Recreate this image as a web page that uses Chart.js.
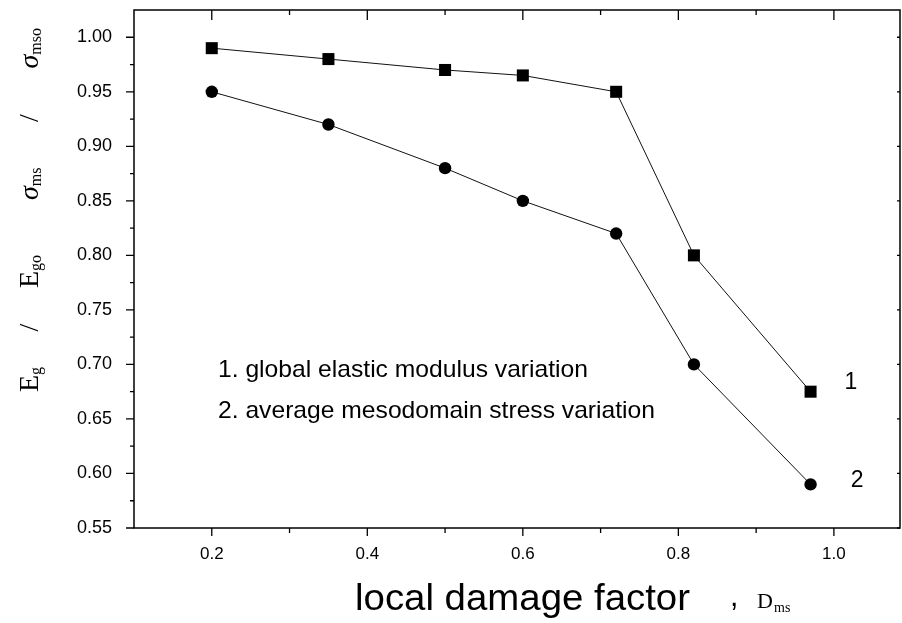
<!DOCTYPE html>
<html>
<head>
<meta charset="utf-8">
<script src="https://cdn.jsdelivr.net/npm/chart.js@4"></script>
<style>
  html, body { margin: 0; padding: 0; background: #fff; }
  #wrap { width: 902px; height: 623px; position: relative; }
  canvas { display: block; }
</style>
</head>
<body>
<div id="wrap"><canvas id="c" width="902" height="623"></canvas></div>
<script>
// ---- data ----
const damageFactor   = [0.2, 0.35, 0.5, 0.6, 0.72, 0.82, 0.97];
const modulusRatio   = [0.99, 0.98, 0.97, 0.965, 0.95, 0.80, 0.675];   // series 1 (squares)
const stressRatio    = [0.95, 0.92, 0.88, 0.85, 0.82, 0.70, 0.59];     // series 2 (circles)
const xTickValues    = [0.2, 0.4, 0.6, 0.8, 1.0];
const xMinorValues   = [0.3, 0.5, 0.7, 0.9];
const yTickValues    = [0.55, 0.60, 0.65, 0.70, 0.75, 0.80, 0.85, 0.90, 0.95, 1.00];
const yMinorValues   = [0.575, 0.625, 0.675, 0.725, 0.775, 0.825, 0.875, 0.925, 0.975];
const legendLines    = ['1. global elastic modulus variation', '2. average mesodomain stress variation'];
const seriesLabels   = ['1', '2'];

const SANS = "'Liberation Sans', Arial, sans-serif";
const SERIF = "'Liberation Serif', 'Times New Roman', serif";

function fitText(ctx, text, x, y, targetW) {
  const w = ctx.measureText(text).width;
  ctx.save();
  ctx.translate(x, y);
  ctx.scale(targetW / w, 1);
  ctx.fillText(text, 0, 0);
  ctx.restore();
}

// lay out pieces along a rotated baseline, distributing extra room into given gaps
function drawRotatedGroup(ctx, pieces, u0, u1) {
  let natural = 0;
  pieces.forEach(p => { ctx.font = p.font; p.w = ctx.measureText(p.t).width; natural += p.w; });
  const stretchGaps = pieces.filter(p => p.gapAfter).length;
  const extra = Math.max(0, (u1 - u0) - natural);
  let u = u0;
  pieces.forEach(p => {
    ctx.font = p.font;
    ctx.fillText(p.t, u, p.v || 0);
    u += p.w;
    if (p.gapAfter) u += extra / stretchGaps;
  });
}

const zeroPad = s => { s.paddingTop = 0; s.paddingBottom = 0; s.paddingLeft = 0; s.paddingRight = 0; };

const framePlugin = {
  id: 'frameAndText',
  afterDraw(chart) {
    const ctx = chart.ctx;
    const a = chart.chartArea;
    const xs = chart.scales.x, ys = chart.scales.y;
    ctx.save();
    ctx.strokeStyle = '#000';
    ctx.fillStyle = '#000';
    // frame
    ctx.lineWidth = 1.5;
    ctx.strokeRect(a.left, a.top, a.right - a.left, a.bottom - a.top);
    ctx.lineWidth = 1.3;
    ctx.beginPath();
    // left ticks (outward)
    yTickValues.forEach(v => { const y = ys.getPixelForValue(v); ctx.moveTo(a.left - 8, y); ctx.lineTo(a.left, y); });
    yMinorValues.forEach(v => { const y = ys.getPixelForValue(v); ctx.moveTo(a.left - 4, y); ctx.lineTo(a.left, y); });
    // right ticks (inward, short)
    yTickValues.forEach(v => { const y = ys.getPixelForValue(v); ctx.moveTo(a.right - 3, y); ctx.lineTo(a.right, y); });
    // bottom ticks (outward)
    xTickValues.forEach(v => { const x = xs.getPixelForValue(v); ctx.moveTo(x, a.bottom); ctx.lineTo(x, a.bottom + 8); });
    xMinorValues.forEach(v => { const x = xs.getPixelForValue(v); ctx.moveTo(x, a.bottom); ctx.lineTo(x, a.bottom + 5); });
    // top ticks (inward)
    xTickValues.forEach(v => { const x = xs.getPixelForValue(v); ctx.moveTo(x, a.top); ctx.lineTo(x, a.top + 10); });
    xMinorValues.forEach(v => { const x = xs.getPixelForValue(v); ctx.moveTo(x, a.top); ctx.lineTo(x, a.top + 5); });
    ctx.stroke();

    // legend text
    ctx.textAlign = 'left';
    ctx.textBaseline = 'alphabetic';
    ctx.font = '24px ' + SANS;
    fitText(ctx, legendLines[0], 218, 377, 370);
    fitText(ctx, legendLines[1], 218, 418, 437);

    // series labels near line ends
    ctx.font = '23px ' + SANS;
    ctx.textAlign = 'center';
    ctx.textBaseline = 'middle';
    ctx.fillText(seriesLabels[0], xs.getPixelForValue(1.022), ys.getPixelForValue(0.683));
    ctx.fillText(seriesLabels[1], xs.getPixelForValue(1.03), ys.getPixelForValue(0.593));

    // x axis title
    ctx.textAlign = 'left';
    ctx.textBaseline = 'alphabetic';
    ctx.font = '36px ' + SANS;
    fitText(ctx, 'local damage factor', 355, 610, 335);
    ctx.font = '30px ' + SANS;
    ctx.fillText(',', 730, 606);
    ctx.font = '22px ' + SERIF;
    ctx.fillText('D', 757, 608);
    ctx.font = '14px ' + SERIF;
    ctx.fillText('ms', 774, 612);

    // y axis title (rotated)
    ctx.save();
    ctx.translate(38, 392);
    ctx.rotate(-Math.PI / 2);
    ctx.textAlign = 'left';
    ctx.textBaseline = 'alphabetic';
    const main = '28px ' + SERIF, sub = '16px ' + SERIF, ital = 'italic 28px ' + SERIF;
    drawRotatedGroup(ctx, [
      { t: 'E', font: main },
      { t: 'g', font: sub, v: 3, gapAfter: true },
      { t: '/', font: main, gapAfter: true },
      { t: 'E', font: main },
      { t: 'go', font: sub, v: 3 }
    ], 0, 137);
    drawRotatedGroup(ctx, [
      { t: 'σ', font: ital },
      { t: 'ms', font: sub, v: 3, gapAfter: true },
      { t: '/', font: main, gapAfter: true },
      { t: 'σ', font: ital },
      { t: 'mso', font: sub, v: 3 }
    ], 192, 364);
    ctx.restore();
    ctx.restore();
  }
};

const ds = (vals, style, radius) => ({
  data: damageFactor.map((x, i) => ({ x, y: vals[i] })),
  borderColor: '#111',
  borderWidth: 1,
  backgroundColor: '#000',
  pointBackgroundColor: '#000',
  pointBorderColor: '#000',
  pointBorderWidth: 0,
  pointStyle: style,
  pointRadius: radius,
  pointHoverRadius: radius,
  tension: 0,
  fill: false
});

new Chart(document.getElementById('c'), {
  type: 'line',
  data: {
    datasets: [ds(modulusRatio, 'rect', 8.5), ds(stressRatio, 'circle', 6.2)]
  },
  plugins: [framePlugin],
  options: {
    responsive: false,
    devicePixelRatio: 1,
    animation: false,
    events: [],
    layout: { autoPadding: false, padding: { top: 10, right: 2, left: 0, bottom: 0 } },
    plugins: { legend: { display: false }, tooltip: { enabled: false }, title: { display: false } },
    scales: {
      x: {
        type: 'linear',
        min: 0.1,
        max: 1.085,
        border: { display: false },
        grid: { display: false, drawTicks: false },
        afterBuildTicks: s => { s.ticks = xTickValues.map(v => ({ value: v })); },
        afterFit: s => { s.height = 95; zeroPad(s); },
        ticks: {
          padding: 16,
          color: '#000',
          maxRotation: 0,
          font: { family: SANS, size: 17 },
          callback: v => Number(v).toFixed(1)
        }
      },
      y: {
        type: 'linear',
        min: 0.55,
        max: 1.025,
        border: { display: false },
        grid: { display: false, drawTicks: false },
        afterBuildTicks: s => { s.ticks = yTickValues.map(v => ({ value: v })); },
        afterFit: s => { s.width = 134; zeroPad(s); },
        ticks: {
          padding: 22,
          color: '#000',
          font: { family: SANS, size: 18 },
          callback: v => Number(v).toFixed(2)
        }
      }
    }
  }
});
</script>
</body>
</html>
